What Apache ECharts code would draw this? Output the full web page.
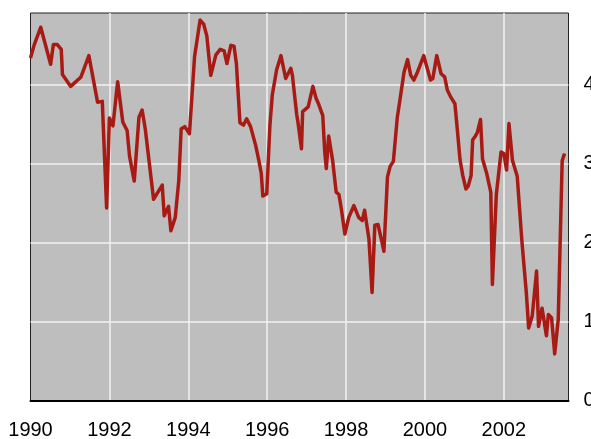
<!DOCTYPE html>
<html>
<head>
<meta charset="utf-8">
<script src="https://cdn.jsdelivr.net/npm/echarts@6/dist/echarts.min.js"></script>
<style>
html,body{margin:0;padding:0;background:#fff;}
#chart{width:591px;height:439px;}
</style>
</head>
<body>
<div id="chart"></div>
<script>
// decimal year of each vertex
const years = [1990.00,1990.09,1990.26,1990.51,1990.58,1990.68,1990.78,1990.81,1991.02,1991.28,1991.48,1991.70,1991.82,1991.93,
1992.00,1992.09,1992.21,1992.34,1992.45,1992.51,1992.63,1992.75,1992.83,1992.91,1993.12,1993.34,1993.39,1993.50,1993.56,1993.67,1993.76,1993.82,1993.91,
1994.03,1994.16,1994.30,1994.39,1994.47,1994.57,1994.70,1994.81,1994.91,1994.98,1995.08,1995.16,1995.22,1995.31,1995.40,1995.48,1995.58,1995.71,1995.79,1995.85,1995.89,1995.99,
1996.07,1996.13,1996.24,1996.35,1996.47,1996.51,1996.60,1996.64,1996.75,1996.78,1996.87,1996.90,1996.95,1997.04,1997.16,1997.24,1997.31,1997.41,1997.46,1997.50,1997.56,1997.66,1997.75,1997.82,1997.88,1997.97,
1998.07,1998.20,1998.32,1998.41,1998.47,1998.58,1998.66,1998.73,1998.81,1998.91,1998.96,1999.05,1999.12,1999.20,1999.30,1999.37,1999.47,1999.56,1999.64,1999.72,1999.81,1999.97,
2000.00,2000.14,2000.20,2000.30,2000.41,2000.50,2000.57,2000.66,2000.76,2000.82,2000.89,2000.96,2001.04,2001.10,2001.17,2001.21,2001.28,2001.33,2001.41,2001.46,2001.56,2001.67,2001.71,2001.81,2001.93,
2002.00,2002.07,2002.13,2002.22,2002.34,2002.46,2002.57,2002.63,2002.72,2002.83,2002.88,2002.97,2003.02,2003.08,2003.13,2003.21,2003.29,2003.38,2003.48,2003.54];
const values = [4.34,4.50,4.73,4.26,4.51,4.51,4.45,4.13,3.98,4.10,4.37,3.78,3.79,2.44,
3.58,3.48,4.04,3.53,3.42,3.10,2.78,3.59,3.68,3.44,2.55,2.73,2.34,2.46,2.15,2.32,2.79,3.44,3.47,
3.38,4.36,4.82,4.77,4.62,4.12,4.38,4.45,4.43,4.27,4.50,4.49,4.27,3.52,3.49,3.57,3.47,3.23,3.04,2.88,2.59,2.62,
3.49,3.87,4.19,4.37,4.08,4.09,4.21,4.12,3.62,3.53,3.19,3.66,3.68,3.72,3.98,3.83,3.75,3.61,3.15,2.94,3.35,3.04,2.64,2.61,2.43,2.11,
2.32,2.47,2.32,2.28,2.41,2.05,1.37,2.22,2.23,2.01,1.89,2.83,2.97,3.03,3.59,3.82,4.16,4.32,4.12,4.06,4.16,4.37,
4.35,4.06,4.08,4.37,4.14,4.10,3.93,3.84,3.76,3.44,3.05,2.85,2.68,2.72,2.85,3.30,3.35,3.40,3.56,3.06,2.89,2.64,1.47,2.61,3.15,
3.13,2.92,3.51,3.04,2.84,2.01,1.37,0.92,1.07,1.64,0.94,1.17,1.15,0.82,1.09,1.05,0.59,1.03,3.04,3.13];
const xTicks = [1990,1992,1994,1996,1998,2000,2002];
const yTicks = [0,1,2,3,4];

const seriesData = years.map((y,i)=>[y, values[i]]);

const chart = echarts.init(document.getElementById('chart'), null, {renderer:'canvas'});
chart.setOption({
  animation:false,
  backgroundColor:'#ffffff',
  grid:{left:30.5,right:22.5,top:13,bottom:38.5,show:true,backgroundColor:'#bebebe',borderColor:'#222',borderWidth:1,containLabel:false,outerBoundsMode:'none'},
  xAxis:{
    type:'value',min:1990,max:2003.64,interval:2,
    axisLine:{show:true,onZero:false,lineStyle:{color:'#000',width:2}},
    axisTick:{show:false},
    splitLine:{show:true,showMinLine:false,showMaxLine:false,lineStyle:{color:'#f2f2f2',width:1.5}},
    axisLabel:{color:'#000',fontSize:20,fontFamily:'Liberation Sans, Arial, sans-serif',margin:20,
      showMaxLabel:false,hideOverlap:false,
      formatter:v=>xTicks.includes(v)?String(v):''}
  },
  yAxis:{
    type:'value',position:'right',min:0,max:4.91,interval:1,
    axisLine:{show:false},axisTick:{show:false},
    splitLine:{show:true,showMinLine:false,showMaxLine:false,lineStyle:{color:'#f2f2f2',width:1.5}},
    axisLabel:{color:'#000',fontSize:20,fontFamily:'Liberation Sans, Arial, sans-serif',margin:15,align:'left',
      showMaxLabel:false,
      formatter:v=>yTicks.includes(v)?String(v):''}
  },
  series:[{
    type:'line',data:seriesData,showSymbol:false,
    lineStyle:{color:'#a81b15',width:3.5,join:'round'},
    clip:true
  }]
});
</script>
</body>
</html>
